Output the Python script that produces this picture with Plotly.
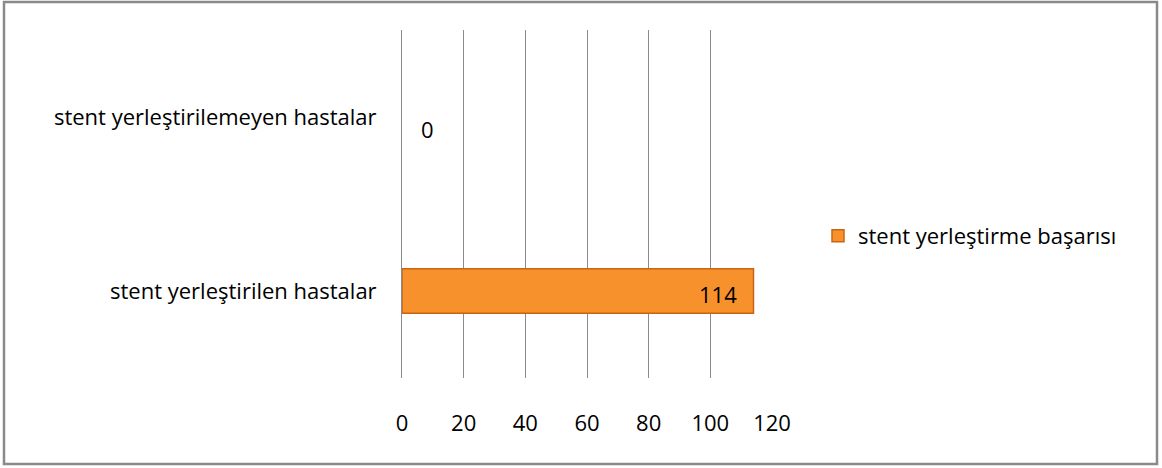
import plotly.graph_objects as go

categories = ["stent yerleştirilen hastalar", "stent yerleştirilemeyen hastalar"]
values = [114, 0]
series_name = "stent yerleştirme başarısı"
x_ticks = [0, 20, 40, 60, 80, 100, 120]

W, H = 1162, 468
L, R, T, B = 402, 772, 30, 378
FONT = "Open Sans"
FS = 22

def px_x(p):
    return (p - L) / (R - L)

def px_y(p):
    return (B - p) / (B - T)

fig = go.Figure()
fig.add_trace(go.Bar(
    y=categories, x=values, orientation="h", name=series_name,
    marker=dict(color="#F7912C", line=dict(color="#C96511", width=[1.5 if v > 0 else 0 for v in values])),
    width=0.255, showlegend=True,
))

annotations = []
for c, v in zip(categories, values):
    if v > 0:
        annotations.append(dict(x=v, y=c, xref="x", yref="y", text=str(v), showarrow=False,
                                xanchor="right", xshift=-15, yshift=-3,
                                font=dict(family=FONT, size=FS, color="#000000")))
    else:
        annotations.append(dict(x=v, y=c, xref="x", yref="y", text=str(v), showarrow=False,
                                xanchor="left", xshift=17, yshift=-12,
                                font=dict(family=FONT, size=FS, color="#000000")))

fig.update_layout(
    width=W, height=H,
    margin=dict(l=L, r=W - R, t=T, b=H - B, pad=0),
    paper_bgcolor="white", plot_bgcolor="white",
    font=dict(family=FONT, size=FS, color="#000000"),
    bargap=0.7,
    annotations=annotations,
    xaxis=dict(range=[0, 120], tickvals=x_ticks, showgrid=True, gridcolor="#8C8C8C", gridwidth=1,
               zeroline=False, showline=False, ticks="outside", ticklen=26, tickcolor="rgba(0,0,0,0)",
               tickfont=dict(family=FONT, size=FS, color="#000000"), fixedrange=True),
    yaxis=dict(showgrid=False, zeroline=False, showline=True, linecolor="#8C8C8C", linewidth=1,
               ticks="", ticklabelstandoff=20,
               tickfont=dict(family=FONT, size=FS, color="#000000"), range=[-0.5, 1.5]),
    legend=dict(x=px_x(818), y=px_y(236), xanchor="left", yanchor="middle",
                font=dict(family=FONT, size=FS, color="#000000"), itemwidth=30,
                bgcolor="rgba(0,0,0,0)"),
    shapes=[dict(type="rect", xref="paper", yref="paper",
                 x0=px_x(4), x1=px_x(1157), y0=px_y(464), y1=px_y(2),
                 line=dict(color="#8A8A8A", width=2.5), layer="below")],
)

fig.write_html("out.html")
